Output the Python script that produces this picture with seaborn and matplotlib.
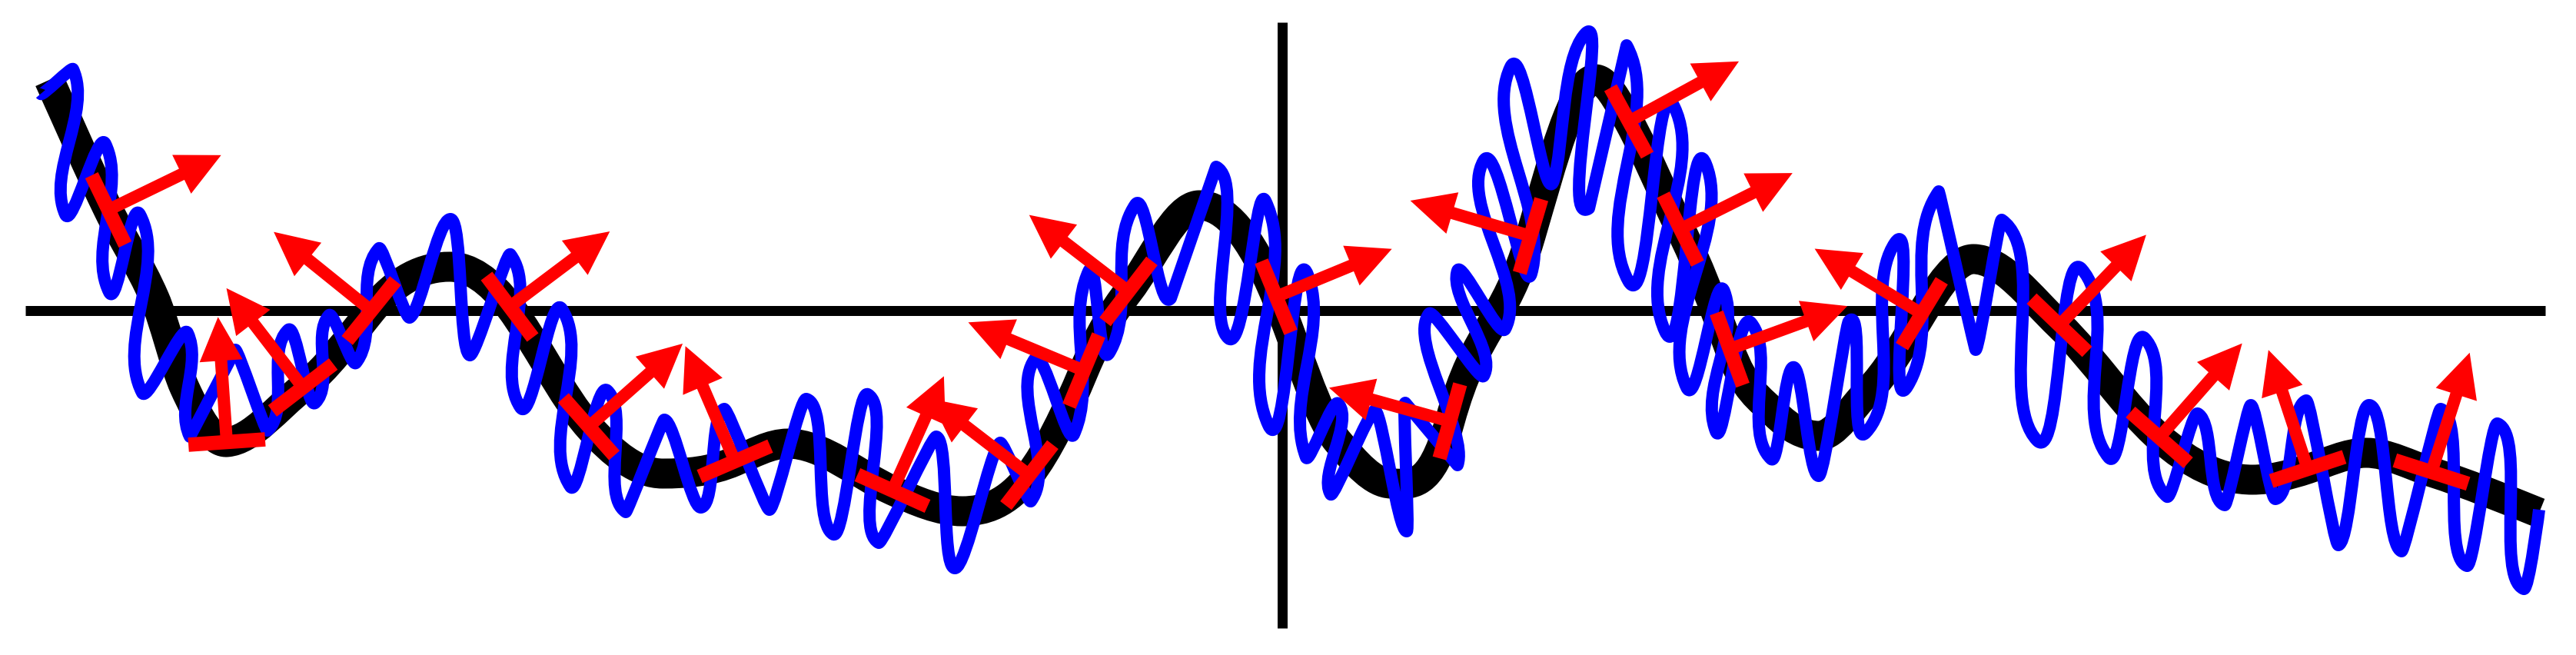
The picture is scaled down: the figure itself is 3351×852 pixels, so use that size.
import numpy as np
import matplotlib
matplotlib.use("Agg")
import matplotlib.pyplot as plt
from matplotlib.path import Path
from matplotlib.patches import PathPatch
import seaborn as sns

# ---------------- data (axis units) ----------------
# marker points on the smooth curve: position and tangent slope
marker_x = [-15.27, -13.73, -12.74, -11.85, -10.05, -9.02, -7.12, -5.07, -3.29, -2.58, -2.00,
            -0.08, 2.18, 3.23, 4.51, 5.18, 5.82, 8.32, 10.11, 11.41, 13.34, 14.95]
marker_y = [1.31, -1.71, -1.00, 0.00, 0.05, -1.51, -1.96, -2.34, -2.14, -0.78, 0.25,
            0.18, -1.44, 0.97, 2.46, 1.06, -0.50, -0.04, -0.19, -1.65, -2.06, -2.10]
marker_slope = [-2.06, 0.07, 0.77, 1.24, -1.33, -1.13, 0.43, -0.45, 1.3, 2.4, 1.3,
                -2.42, 3.6, 3.4, -1.83, -2.0, -2.74, 1.65, -0.96, -0.88, 0.33, -0.32]

# further points of the smooth (black) curve: ends, peaks, valleys
curve_x = [-16.04, -14.67, -14.28, -10.83, -8.06, -6.43, -4.16, -1.08, 0.72, 1.42,
           4.07, 6.41, 6.98, 7.62, 8.99, 12.62, 14.10, 16.35]
curve_y = [3.00, 0.16, -1.00, 0.57, -2.12, -1.73, -2.61, 1.37, -1.70, -2.25,
           3.01, -1.34, -1.63, -1.05, 0.67, -2.20, -1.85, -2.63]
curve_slope = [-2.2, -2.3, -2.2, 0.0, 0.0, 0.0, 0.0, 0.0, -1.2, 0.0,
               0.0, -1.0, 0.0, 1.0, 0.0, 0.0, 0.0, -0.4]

# turning points of the noisy (blue) curve, in order
blue_x = [-16.15, -15.73, -15.83, -15.31, -15.26, -14.86, -14.83, -14.24, -14.21, -13.62,
          -13.20, -12.93, -12.58, -12.40, -12.05, -11.75, -11.35, -10.82, -10.57, -10.04,
          -9.91, -9.37, -9.26, -8.78, -8.54, -8.04, -7.56, -7.26, -6.67, -6.19,
          -5.84, -5.39, -5.25, -4.50, -4.26, -3.67, -3.27, -3.22, -2.71, -2.52,
          -2.25, -1.91, -1.45, -0.86, -0.70, -0.22, -0.18, 0.33, 0.31, 0.73,
          0.63, 1.21, 1.62, 1.60, 2.28, 1.91, 2.62, 2.28, 2.90, 2.62,
          3.24, 2.97, 3.53, 3.94, 3.99, 4.48, 4.50, 5.10, 4.98, 5.51,
          5.26, 5.75, 5.64, 6.10, 6.36, 6.66, 6.98, 7.37, 7.59, 7.97,
          8.13, 8.54, 9.02, 9.36, 9.82, 10.40, 10.75, 11.22, 11.51, 11.91,
          12.26, 12.60, 12.92, 13.32, 13.74, 14.14, 14.56, 15.07, 15.41, 15.81,
          16.15, 16.35]
blue_y = [2.82, 3.14, 1.25, 2.17, 0.24, 1.25, -1.07, -0.29, -1.64, -0.51,
          -1.56, -0.25, -1.20, -0.06, -0.68, 0.81, -0.09, 1.19, -0.58, 0.73,
          -1.26, 0.02, -2.29, -1.04, -2.62, -1.42, -2.56, -1.28, -2.59, -1.15,
          -2.91, -1.09, -3.02, -1.64, -3.35, -1.72, -2.48, -0.63, -1.61, 0.51,
          -0.55, 1.38, 0.16, 1.87, -0.36, 1.43, -1.49, 0.47, -1.91, -1.21,
          -2.39, -1.30, -2.87, -1.20, -2.01, -0.04, -0.85, 0.52, -0.24, 1.95,
          0.48, 3.17, 1.69, 3.60, 1.33, 3.45, 0.39, 2.65, -0.27, 1.91,
          -1.00, 0.25, -1.57, -0.16, -1.93, -0.74, -2.15, -0.14, -1.59, 0.88,
          -0.99, 1.55, -0.51, 1.18, -1.69, 0.54, -1.91, -0.36, -2.42, -1.34,
          -2.53, -1.23, -2.45, -1.17, -3.05, -1.23, -3.13, -1.28, -3.32, -1.47,
          -3.62, -2.59]

# coordinate axes extents
hline_x = [-16.35, 16.43]
vline_y = [3.75, -4.13]

# ---------------- figure ----------------
sns.set_theme(style="white")
plt.rcParams['font.family'] = ['DejaVu Sans']

PX = 0.72  # points per pixel at dpi 100
fig = plt.figure(figsize=(33.51, 8.53), dpi=100)
ax = fig.add_axes([0, 0, 1, 1])
ax.set_xlim(-16.68, 16.83)
ax.set_ylim(-4.48, 4.05)
ax.set_axis_off()

# axis lines
sns.lineplot(x=hline_x, y=[0.0, 0.0], color="black", lw=13 * PX, sort=False,
             estimator=None, ax=ax, zorder=1, solid_capstyle="butt")
sns.lineplot(x=[0.0, 0.0], y=vline_y, color="black", lw=13 * PX, sort=False,
             estimator=None, ax=ax, zorder=1, solid_capstyle="butt", orient="y")

# smooth curve: Hermite segments through knots (rendered as Bezier path)
kx = np.array(curve_x + marker_x)
ky = np.array(curve_y + marker_y)
km = np.array(curve_slope + marker_slope)
o = np.argsort(kx)
kx, ky, km = kx[o], ky[o], km[o]

verts = [(kx[0], ky[0])]
codes = [Path.MOVETO]
for k in range(len(kx) - 1):
    d = kx[k + 1] - kx[k]
    verts += [(kx[k] + d / 3, ky[k] + km[k] * d / 3),
              (kx[k + 1] - d / 3, ky[k + 1] - km[k + 1] * d / 3),
              (kx[k + 1], ky[k + 1])]
    codes += [Path.CURVE4] * 3
ax.add_patch(PathPatch(Path(verts, codes), facecolor="none", edgecolor="black",
                       lw=39 * PX, capstyle="butt", joinstyle="round", zorder=2))

# tangent direction of the smooth curve at a given x (Hermite derivative)
def tangent_at(x):
    k = int(np.clip(np.searchsorted(kx, x) - 1, 0, len(kx) - 2))
    d = kx[k + 1] - kx[k]
    u = np.clip((x - kx[k]) / d, 0, 1)
    dy = ((6 * u * u - 6 * u) * ky[k] + (3 * u * u - 4 * u + 1) * d * km[k]
          + (-6 * u * u + 6 * u) * ky[k + 1] + (3 * u * u - 2 * u) * d * km[k + 1]) / d
    v = np.array([1.0, dy])
    return v / np.linalg.norm(v)

# noisy curve: Bezier through the turning points, turning parallel to the smooth curve
A = np.column_stack([blue_x, blue_y])
n = len(A)
T = np.array([tangent_at(a[0]) for a in A])

bverts = [tuple(A[0])]
bcodes = [Path.MOVETO]
for i in range(n - 1):
    p0, p3 = A[i], A[i + 1]
    tb = T[i] + T[i + 1]
    tb = tb / np.linalg.norm(tb)
    L = abs(np.dot(p3 - p0, tb))
    agree = max(np.dot(T[i], T[i + 1]), 0.0) ** 4
    h = 0.364 * L * agree
    c1 = p0 + h * T[i]
    c2 = p3 - h * T[i + 1] if i + 1 < n - 1 else p3
    bverts += [tuple(c1), tuple(c2), tuple(p3)]
    bcodes += [Path.CURVE4] * 3
ax.add_patch(PathPatch(Path(bverts, bcodes), facecolor="none", edgecolor="#0000ff",
                       lw=16 * PX, capstyle="butt", joinstyle="round", zorder=3))

# tangent bars and normal arrows
for x, y, m in zip(marker_x, marker_y, marker_slope):
    t = np.array([1.0, m]) / np.hypot(1.0, m)
    nv = np.array([-t[1], t[0]])
    ax.plot([x - 0.5 * t[0], x + 0.5 * t[0]], [y - 0.5 * t[1], y + 0.5 * t[1]],
            color="#ff0000", lw=18.6 * PX, solid_capstyle="butt", zorder=4)
    ax.arrow(x, y, 1.63 * nv[0], 1.63 * nv[1], width=0.16, head_width=0.56,
             head_length=0.57, length_includes_head=True, fc="#ff0000",
             ec="none", lw=0, zorder=4)

fig.savefig("out.png", dpi=100, facecolor="white")
